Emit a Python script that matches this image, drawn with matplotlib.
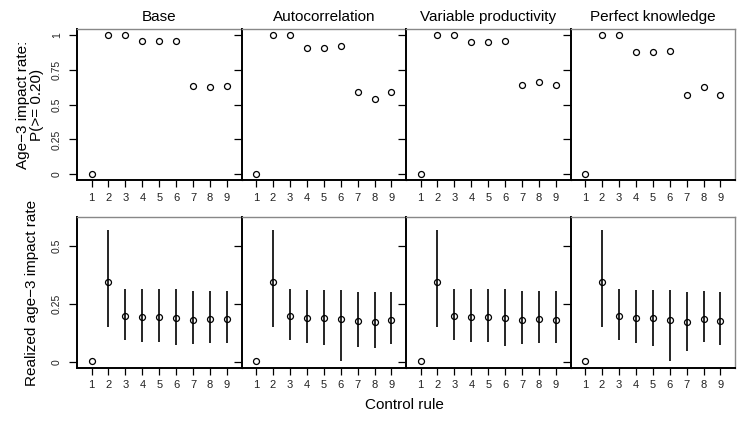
import matplotlib
matplotlib.use("Agg")
import matplotlib.pyplot as plt
import numpy as np

scenarios = ["Base", "Autocorrelation", "Variable productivity", "Perfect knowledge"]
rules = [1, 2, 3, 4, 5, 6, 7, 8, 9]

# P(age-3 impact rate >= 0.20)
p_base = [0.0, 1.0, 1.0, 0.952, 0.952, 0.957, 0.629, 0.624, 0.629]
p_auto = [0.0, 1.0, 1.0, 0.907, 0.907, 0.919, 0.591, 0.536, 0.589]
p_varp = [0.0, 1.0, 1.0, 0.947, 0.947, 0.952, 0.639, 0.663, 0.636]
p_perf = [0.0, 1.0, 1.0, 0.876, 0.876, 0.885, 0.567, 0.624, 0.565]

# Realized age-3 impact rate: median, lower, upper
m_base = [0.006, 0.345, 0.199, 0.195, 0.196, 0.192, 0.183, 0.186, 0.185]
lo_base = [0.004, 0.152, 0.096, 0.089, 0.089, 0.075, 0.079, 0.085, 0.083]
hi_base = [0.008, 0.567, 0.315, 0.314, 0.314, 0.314, 0.305, 0.307, 0.305]

m_auto = [0.006, 0.345, 0.199, 0.192, 0.192, 0.185, 0.178, 0.175, 0.181]
lo_auto = [0.004, 0.152, 0.096, 0.083, 0.076, 0.006, 0.064, 0.063, 0.077]
hi_auto = [0.008, 0.570, 0.315, 0.312, 0.312, 0.312, 0.304, 0.301, 0.304]

m_varp = [0.006, 0.345, 0.199, 0.196, 0.196, 0.192, 0.183, 0.188, 0.183]
lo_varp = [0.004, 0.152, 0.096, 0.089, 0.089, 0.070, 0.079, 0.085, 0.082]
hi_varp = [0.008, 0.570, 0.315, 0.314, 0.314, 0.314, 0.305, 0.308, 0.305]

m_perf = [0.006, 0.345, 0.199, 0.189, 0.189, 0.181, 0.172, 0.186, 0.176]
lo_perf = [0.004, 0.152, 0.096, 0.082, 0.070, 0.006, 0.050, 0.086, 0.074]
hi_perf = [0.008, 0.569, 0.315, 0.312, 0.312, 0.312, 0.302, 0.308, 0.302]

top_vals = [p_base, p_auto, p_varp, p_perf]
bot_vals = [(m_base, lo_base, hi_base), (m_auto, lo_auto, hi_auto),
            (m_varp, lo_varp, hi_varp), (m_perf, lo_perf, hi_perf)]

top_ticks = [0, 0.25, 0.5, 0.75, 1]
top_ticklabels = ["0", "0.25", "0.5", "0.75", "1"]
bot_ticks = [0, 0.25, 0.5]
bot_ticklabels = ["0", "0.25", "0.5"]

plt.rcParams['font.family'] = ['Liberation Sans', 'DejaVu Sans']

fig = plt.figure(figsize=(7.37, 4.25), dpi=100)
W, H = 737.0, 425.0
left0 = 77.0
pw = 164.5
rows = [(29.0, 180.0), (217.0, 368.0)]

def style(ax, yticks, ylabels, show_ylabels):
    for s in ["top", "right"]:
        ax.spines[s].set_color("#888888")
        ax.spines[s].set_linewidth(1.0)
    for s in ["left", "bottom"]:
        ax.spines[s].set_color("black")
        ax.spines[s].set_linewidth(1.4)
    ax.set_xlim(0.14, 9.86)
    ax.set_xticks(rules)
    ax.set_xticklabels([str(r) for r in rules], fontsize=8, color="#222222")
    ax.set_yticks(yticks)
    if show_ylabels:
        ax.set_yticklabels(ylabels, fontsize=7.5, rotation=90, va="center", color="#222222")
    else:
        ax.set_yticklabels([])
    ax.tick_params(axis="x", direction="out", length=5, width=0.9, pad=4)
    ax.tick_params(axis="y", direction="out", length=5.5, width=0.9, pad=5.5)
    for t in ax.yaxis.get_ticklines():
        t.set_clip_on(False)

for i, name in enumerate(scenarios):
    x0 = (left0 + i * pw) / W
    # top row
    y_top, y_bot = rows[0]
    ax = fig.add_axes([x0, 1 - y_bot / H, pw / W, (y_bot - y_top) / H])
    ax.plot(rules, top_vals[i], linestyle="none", marker="o", markersize=4.3,
            markerfacecolor="none", markeredgecolor="black", markeredgewidth=0.9)
    ax.set_ylim(-0.04, 1.04)
    style(ax, top_ticks, top_ticklabels, i == 0)
    ax.set_title(name, fontsize=11, pad=6)
    # bottom row
    y_top, y_bot = rows[1]
    ax2 = fig.add_axes([x0, 1 - y_bot / H, pw / W, (y_bot - y_top) / H])
    m, lo, hi = bot_vals[i]
    ax2.vlines(rules, lo, hi, color="black", linewidth=1.2)
    ax2.plot(rules, m, linestyle="none", marker="o", markersize=4.3,
             markerfacecolor="none", markeredgecolor="black", markeredgewidth=0.9)
    ax2.set_ylim(-0.024, 0.624)
    style(ax2, bot_ticks, bot_ticklabels, i == 0)

fig.text(30 / W, 1 - 104.5 / H, "Age\u22123 impact rate:\nP(>= 0.20)", rotation=90,
         ha="center", va="center", multialignment="center", fontsize=11, linespacing=1.05)
fig.text(32 / W, 1 - 292.5 / H, "Realized age\u22123 impact rate", rotation=90,
         ha="center", va="center", fontsize=11)
fig.text(404 / W, 1 - 405 / H, "Control rule", ha="center", va="center", fontsize=11)

fig.savefig("out.png", dpi=100)
